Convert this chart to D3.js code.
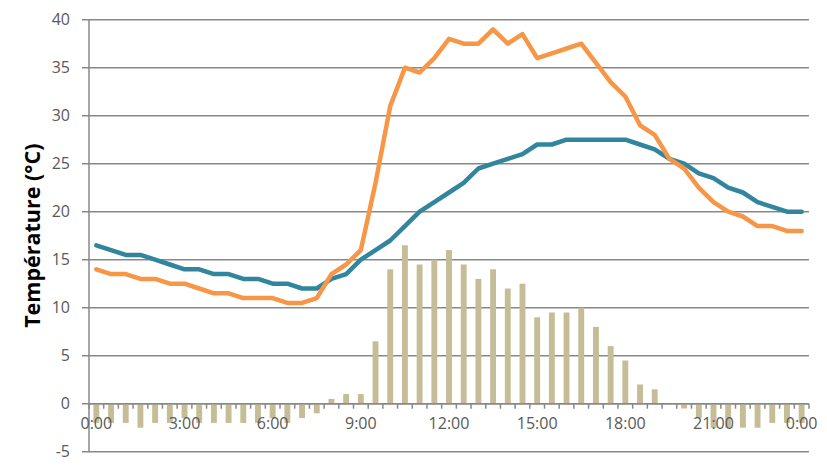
<!DOCTYPE html>
<html>
<head>
<meta charset="utf-8">
<script src="https://cdn.jsdelivr.net/npm/d3@7"></script>
<style>
  html, body { margin: 0; padding: 0; background: #fff; }
  svg { display: block; }
</style>
</head>
<body>
<script>
// half-hour slots, 0:00 .. 24:00
const times = ['0:00','0:30','1:00','1:30','2:00','2:30','3:00','3:30','4:00','4:30','5:00','5:30',
  '6:00','6:30','7:00','7:30','8:00','8:30','9:00','9:30','10:00','10:30','11:00','11:30',
  '12:00','12:30','13:00','13:30','14:00','14:30','15:00','15:30','16:00','16:30','17:00','17:30',
  '18:00','18:30','19:00','19:30','20:00','20:30','21:00','21:30','22:00','22:30','23:00','23:30','24:00'];

// teal line
const tealTemp = [16.5,16,15.5,15.5,15,14.5,14,14,13.5,13.5,13,13,12.5,12.5,12,12,13,13.5,15,16,17,18.5,20,21,
  22,23,24.5,25,25.5,26,27,27,27.5,27.5,27.5,27.5,27.5,27,26.5,25.5,25,24,23.5,22.5,22,21,20.5,20,20];

// orange line
const orangeTemp = [14,13.5,13.5,13,13,12.5,12.5,12,11.5,11.5,11,11,11,10.5,10.5,11,13.5,14.5,16,23,31,35,34.5,36,
  38,37.5,37.5,39,37.5,38.5,36,36.5,37,37.5,35.5,33.5,32,29,28,25.5,24.5,22.5,21,20,19.5,18.5,18.5,18,18];

// bars (difference)
const diffTemp = [-2,-2,-2,-2.5,-2,-2,-1.5,-2,-2,-2,-2,-2,-1.5,-2,-1.5,-1,0.5,1,1,6.5,14,16.5,14.5,15,
  16,14.5,13,14,12,12.5,9,9.5,9.5,10,8,6,4.5,2,1.5,0,-0.5,-1.5,-2.5,-2.5,-2.5,-2.5,-2,-2,-2];

const tickTimes = ['0:00','3:00','6:00','9:00','12:00','15:00','18:00','21:00','24:00'];
const tickLabels = ['0:00','3:00','6:00','9:00','12:00','15:00','18:00','21:00','0:00'];
const yTicks = [-5,0,5,10,15,20,25,30,35,40];

const W = 827, H = 472;
const plotLeft = 89, plotRight = 809, plotTop = 19.7, plotBottom = 451.7;
const gridColor = '#888888';
const textColor = '#595959';

const svg = d3.select('body').append('svg')
  .attr('width', W)
  .attr('height', H);

const x = d3.scaleBand().domain(times).range([plotLeft, plotRight]).padding(0);
const y = d3.scaleLinear().domain([-5, 40]).range([plotBottom, plotTop]);
const bw = x.bandwidth();
const cx = d => x(d) + bw / 2;

// horizontal gridlines (with small ticks on the left)
svg.append('g')
  .selectAll('line')
  .data(yTicks)
  .join('line')
  .attr('x1', plotLeft - 7)
  .attr('x2', plotRight)
  .attr('y1', d => y(d))
  .attr('y2', d => y(d))
  .attr('stroke', gridColor)
  .attr('stroke-width', 1.5);

// y tick labels
svg.append('g')
  .selectAll('text')
  .data(yTicks)
  .join('text')
  .attr('x', 70)
  .attr('y', d => y(d))
  .attr('dy', '0.36em')
  .attr('text-anchor', 'end')
  .attr('font-family', 'Open Sans, sans-serif')
  .attr('font-size', 16)
  .attr('fill', textColor)
  .text(d => d);

// vertical axis
svg.append('line')
  .attr('x1', plotLeft).attr('x2', plotLeft)
  .attr('y1', y(40)).attr('y2', y(-5))
  .attr('stroke', gridColor)
  .attr('stroke-width', 1.5);

// bars
svg.append('g')
  .selectAll('rect')
  .data(diffTemp)
  .join('rect')
  .attr('x', (d, i) => x(times[i]) + bw * 0.3)
  .attr('width', bw * 0.4)
  .attr('y', d => y(Math.max(0, d)))
  .attr('height', d => Math.abs(y(d) - y(0)))
  .attr('fill', '#C4BD97');

// category axis on the zero line
const xAxis = d3.axisBottom(x)
  .tickValues(tickTimes)
  .tickSize(0)
  .tickPadding(14)
  .tickFormat(d => tickLabels[tickTimes.indexOf(d)]);

const gx = svg.append('g')
  .attr('transform', `translate(0,${y(0)})`)
  .call(xAxis);
gx.select('.domain').remove();
gx.selectAll('text')
  .attr('font-family', 'Open Sans, sans-serif')
  .attr('font-size', 16)
  .attr('fill', textColor);

// small ticks at category boundaries
svg.append('g')
  .selectAll('line')
  .data(d3.range(times.length + 1))
  .join('line')
  .attr('x1', i => plotLeft + i * bw)
  .attr('x2', i => plotLeft + i * bw)
  .attr('y1', y(0))
  .attr('y2', y(0) + 5)
  .attr('stroke', gridColor)
  .attr('stroke-width', 1.5);

svg.append('line')
  .attr('x1', plotLeft).attr('x2', plotRight)
  .attr('y1', y(0)).attr('y2', y(0))
  .attr('stroke', gridColor)
  .attr('stroke-width', 1.5);

// lines
const line = d3.line()
  .x((d, i) => cx(times[i]))
  .y(d => y(d));

svg.append('path')
  .datum(tealTemp)
  .attr('d', line)
  .attr('fill', 'none')
  .attr('stroke', '#31859C')
  .attr('stroke-width', 4.5)
  .attr('stroke-linejoin', 'round')
  .attr('stroke-linecap', 'round');

svg.append('path')
  .datum(orangeTemp)
  .attr('d', line)
  .attr('fill', 'none')
  .attr('stroke', '#F79646')
  .attr('stroke-width', 4.5)
  .attr('stroke-linejoin', 'round')
  .attr('stroke-linecap', 'round');

// y axis title
svg.append('text')
  .attr('transform', `translate(40,${(plotTop + plotBottom) / 2}) rotate(-90)`)
  .attr('text-anchor', 'middle')
  .attr('font-family', 'Open Sans, sans-serif')
  .attr('font-weight', 'bold')
  .attr('font-size', 21.5)
  .attr('fill', '#000')
  .text('Température (°C)');
</script>
</body>
</html>
